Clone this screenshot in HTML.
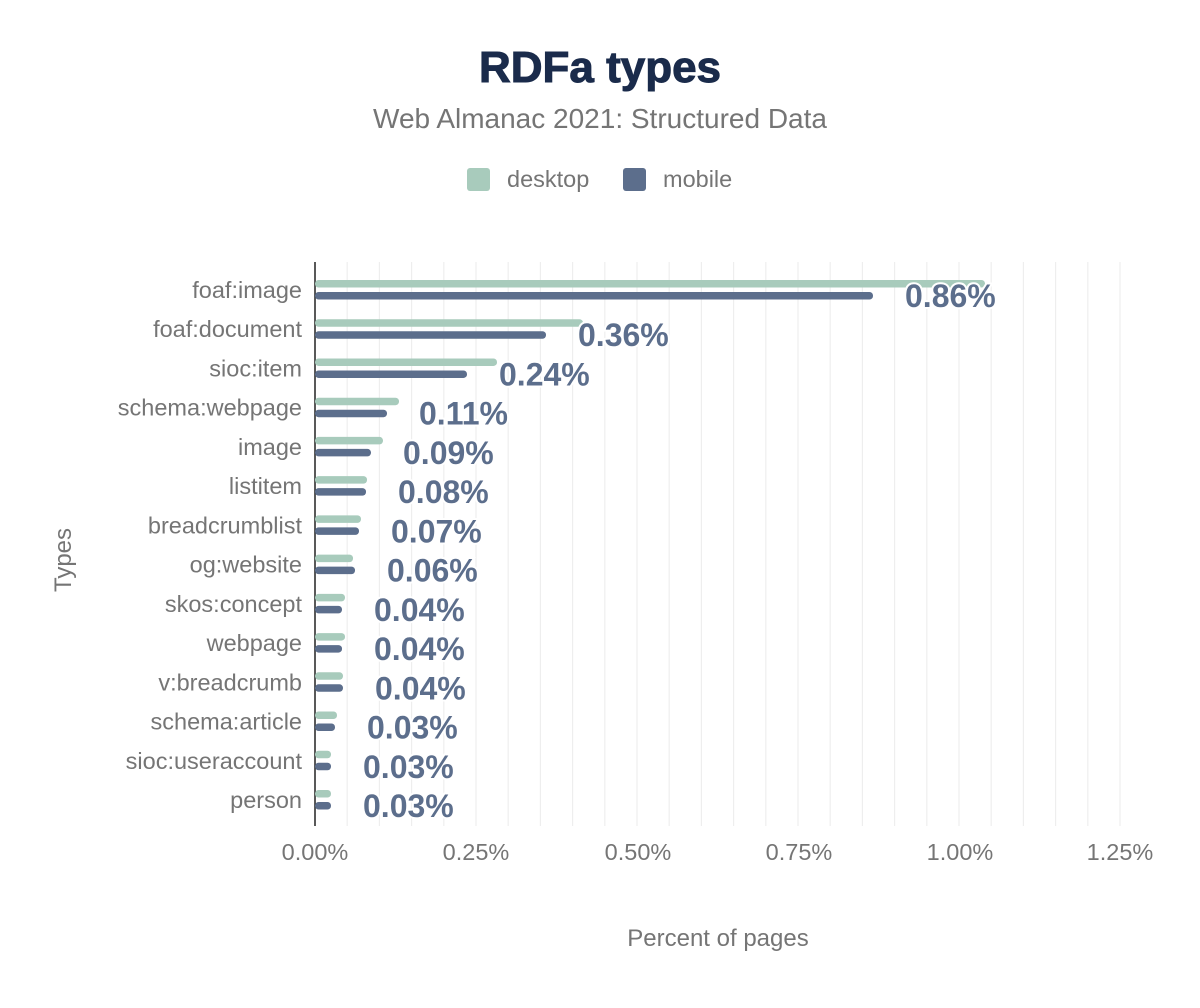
<!DOCTYPE html>
<html><head><meta charset="utf-8"><style>
html,body{margin:0;padding:0;background:#fff;width:1200px;height:1008px;overflow:hidden}
text{font-family:"Liberation Sans",sans-serif}
</style></head><body>
<svg width="1200" height="1008" viewBox="0 0 1200 1008" xmlns="http://www.w3.org/2000/svg">
<text x="600" y="82" text-anchor="middle" font-size="44" font-weight="bold" fill="#1a2b4b" stroke="#1a2b4b" stroke-width="1">RDFa types</text>
<text x="600" y="128" text-anchor="middle" font-size="28" fill="#757575">Web Almanac 2021: Structured Data</text>
<rect x="467" y="168" width="23" height="23" rx="3" fill="#a8cbbc"/>
<text x="507" y="187" font-size="23.5" fill="#757575">desktop</text>
<rect x="623" y="168" width="23" height="23" rx="3" fill="#5c6e8c"/>
<text x="663" y="187" font-size="23.5" fill="#757575">mobile</text>
<g stroke="#eeeeee" stroke-width="1.2" id="grid"></g>
<line x1="315" y1="262" x2="315" y2="826" stroke="#222" stroke-width="1.5"/>
<g id="bars"></g>
<g font-size="23.5" fill="#757575" text-anchor="middle">
<text x="315" y="860">0.00%</text><text x="476" y="860">0.25%</text><text x="638" y="860">0.50%</text>
<text x="799" y="860">0.75%</text><text x="960" y="860">1.00%</text><text x="1120" y="860">1.25%</text>
</g>
<text x="718" y="946" text-anchor="middle" font-size="24" fill="#757575">Percent of pages</text>
<text transform="translate(71,560) rotate(-90)" text-anchor="middle" font-size="24" fill="#757575">Types</text>
</svg>
<script>
var ns="http://www.w3.org/2000/svg";
var g=document.getElementById("grid");
for(var k=1;k<=25;k++){var x=315+k*32.2;var l=document.createElementNS(ns,"line");l.setAttribute("x1",x);l.setAttribute("x2",x);l.setAttribute("y1",262);l.setAttribute("y2",826);g.appendChild(l);}
var d=[["foaf:image",985,873,"0.86%"],["foaf:document",583,546,"0.36%"],["sioc:item",497,467,"0.24%"],["schema:webpage",399,387,"0.11%"],["image",383,371,"0.09%"],["listitem",367,366,"0.08%"],["breadcrumblist",361,359,"0.07%"],["og:website",353,355,"0.06%"],["skos:concept",345,342,"0.04%"],["webpage",345,342,"0.04%"],["v:breadcrumb",343,343,"0.04%"],["schema:article",337,335,"0.03%"],["sioc:useraccount",331,331,"0.03%"],["person",331,331,"0.03%"]];
var b=document.getElementById("bars");
function el(t,a,txt){var e=document.createElementNS(ns,t);for(var k in a)e.setAttribute(k,a[k]);if(txt)e.textContent=txt;b.appendChild(e);return e;}
d.forEach(function(r,i){var y=290+i*39.23;
el("text",{x:302,y:y+8,"text-anchor":"end","font-size":23.5,fill:"#757575"},r[0]);
el("rect",{x:315,y:y-10,width:r[1]-315,height:7.5,rx:3.5,fill:"#a8cbbc"});
el("rect",{x:315,y:y+2,width:r[2]-315,height:7.5,rx:3.5,fill:"#5c6e8c"});
el("text",{x:r[2]+32,y:y+17,"font-size":32,"font-weight":"bold",fill:"#5c6e8c",stroke:"#fff","stroke-width":4,"paint-order":"stroke"},r[3]);
});
</script>
</body></html>
